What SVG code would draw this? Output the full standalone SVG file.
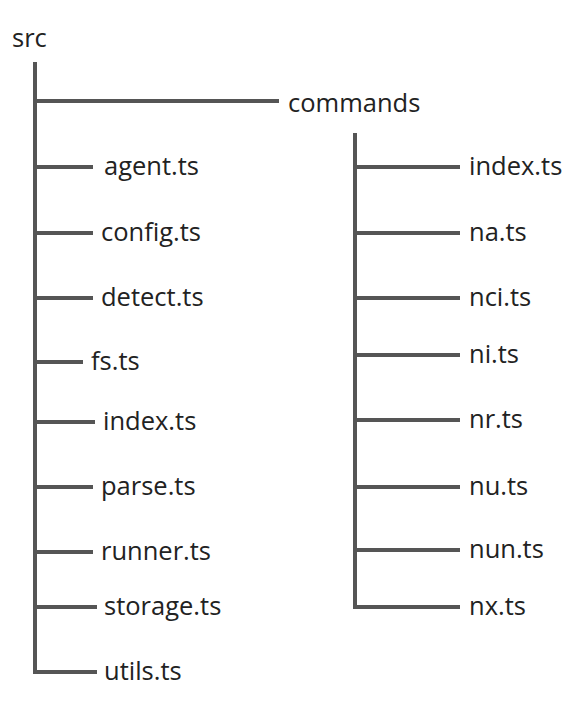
<svg xmlns="http://www.w3.org/2000/svg" width="576" height="709" viewBox="0 0 576 709">
<style>
.l{stroke:#555;stroke-width:4;fill:none}
text{font-family:"Open Sans","Noto Sans",sans-serif;font-size:25.5px;fill:#222}
</style>
<rect width="576" height="709" fill="#fff"/>
<g id="connectors">
<path class="l" d="M35 62V672H97"/>
<path class="l" d="M35 101H279M35 167H93M35 233H93M35 298H93M35 362H83M35 422H95M35 487H93M35 552H93M35 607H97"/>
<path class="l" d="M355 133V607H460"/>
<path class="l" d="M355 167H460M355 233H460M355 298H460M355 355H460M355 420H460M355 487H460M355 550H460"/>
</g>
<g id="src"><text x="12" y="47">src</text></g>
<g id="commands"><text x="288" y="112">commands</text></g>
<g id="agent"><text x="104" y="175">agent.ts</text></g>
<g id="config"><text x="101" y="241">config.ts</text></g>
<g id="detect"><text x="101" y="306">detect.ts</text></g>
<g id="fs"><text x="91" y="370">fs.ts</text></g>
<g id="index"><text x="103" y="430">index.ts</text></g>
<g id="parse"><text x="101" y="495">parse.ts</text></g>
<g id="runner"><text x="101" y="560">runner.ts</text></g>
<g id="storage"><text x="104" y="615">storage.ts</text></g>
<g id="utils"><text x="104" y="680">utils.ts</text></g>
<g id="cmd-index"><text x="469" y="175">index.ts</text></g>
<g id="na"><text x="469" y="241">na.ts</text></g>
<g id="nci"><text x="469" y="306">nci.ts</text></g>
<g id="ni"><text x="469" y="363">ni.ts</text></g>
<g id="nr"><text x="469" y="428">nr.ts</text></g>
<g id="nu"><text x="469" y="495">nu.ts</text></g>
<g id="nun"><text x="469" y="558">nun.ts</text></g>
<g id="nx"><text x="469" y="615">nx.ts</text></g>
</svg>
